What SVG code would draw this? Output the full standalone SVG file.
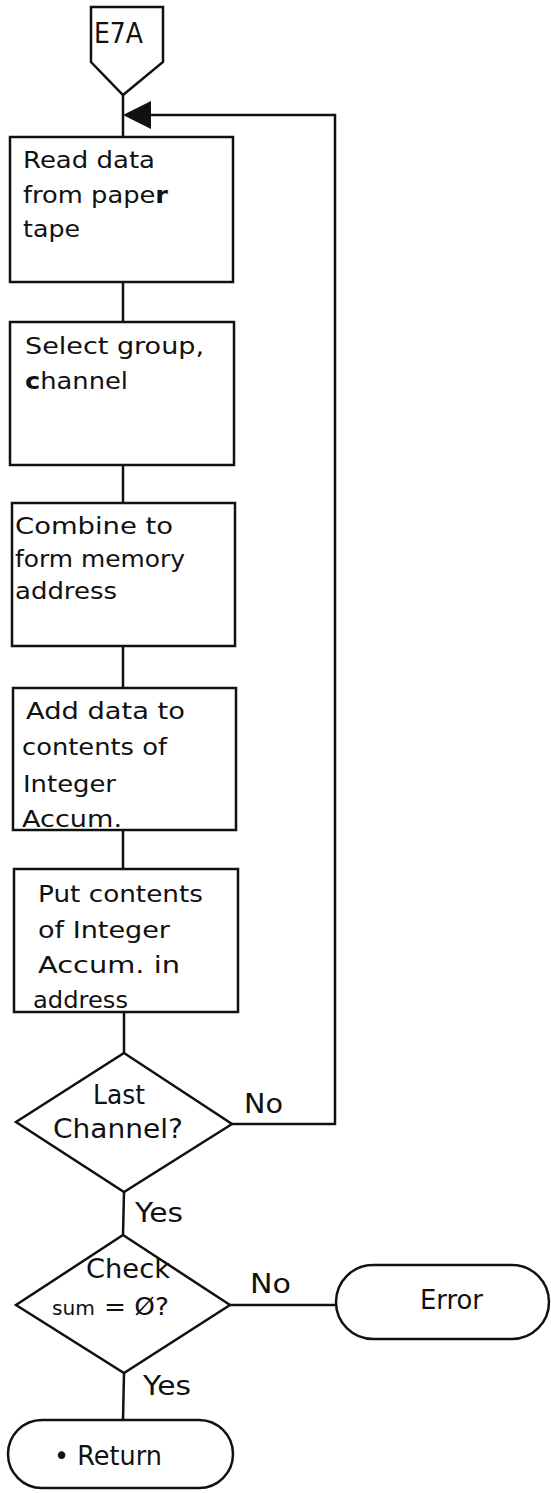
<svg xmlns="http://www.w3.org/2000/svg" width="551" height="1493" viewBox="0 0 551 1493">
<style>
.s{fill:none;stroke:#111;stroke-width:2.5;stroke-linejoin:miter}
.t{font-family:"DejaVu Sans","Liberation Sans",sans-serif;font-size:23px;fill:#111}
.l{font-size:26px}
.e{font-size:28px}
.sm{font-size:20px}
.eq{font-size:25px}
</style>
<rect width="551" height="1493" fill="#fff"/>
<g id="connectors">
<line class="s" x1="123" y1="95" x2="123" y2="137"/>
<path class="s" d="M232,1124 H335 V115 H150"/>
<path d="M123,115 L151,101 L151,129 Z" fill="#111"/>
<line class="s" x1="123" y1="282" x2="123" y2="322"/>
<line class="s" x1="123" y1="465" x2="123" y2="503"/>
<line class="s" x1="123" y1="646" x2="123" y2="688"/>
<line class="s" x1="123" y1="830" x2="123" y2="869"/>
<line class="s" x1="124" y1="1012" x2="124" y2="1053"/>
<line class="s" x1="124" y1="1192" x2="123" y2="1235"/>
<line class="s" x1="124" y1="1373" x2="123" y2="1420"/>
<line class="s" x1="230" y1="1305" x2="336" y2="1305"/>
<text class="t l" x="244" y="1113" textLength="39" lengthAdjust="spacingAndGlyphs">No</text>
<text class="t l" x="135" y="1222" textLength="48" lengthAdjust="spacingAndGlyphs">Yes</text>
<text class="t l" x="250" y="1293" textLength="41" lengthAdjust="spacingAndGlyphs">No</text>
<text class="t l" x="143" y="1395" textLength="48" lengthAdjust="spacingAndGlyphs">Yes</text>
</g>
<g id="e7a">
<path class="s" d="M91,7 H163 V62 L123,95 L91,62 Z"/>
<text class="t e" x="94" y="43" textLength="49" lengthAdjust="spacingAndGlyphs">E7A</text>
</g>
<g id="read">
<rect class="s" x="10" y="137" width="223" height="145"/>
<text class="t" x="23" y="168" textLength="132" lengthAdjust="spacingAndGlyphs">Read data</text>
<text class="t" x="23" y="203" textLength="145" lengthAdjust="spacingAndGlyphs">from pape<tspan font-weight="bold">r</tspan></text>
<text class="t" x="23" y="237" textLength="57" lengthAdjust="spacingAndGlyphs">tape</text>
</g>
<g id="select">
<rect class="s" x="10" y="322" width="224" height="143"/>
<text class="t" x="25" y="354" textLength="179" lengthAdjust="spacingAndGlyphs">Select group,</text>
<text class="t" x="25" y="389" textLength="103" lengthAdjust="spacingAndGlyphs"><tspan font-weight="bold">c</tspan>hannel</text>
</g>
<g id="combine">
<rect class="s" x="12" y="503" width="223" height="143"/>
<text class="t" x="15" y="534" textLength="158" lengthAdjust="spacingAndGlyphs">Combine to</text>
<text class="t" x="15" y="567" textLength="170" lengthAdjust="spacingAndGlyphs">form memory</text>
<text class="t" x="15" y="599" textLength="102" lengthAdjust="spacingAndGlyphs">address</text>
</g>
<g id="add">
<rect class="s" x="13" y="688" width="223" height="142"/>
<text class="t" x="26" y="719" textLength="159" lengthAdjust="spacingAndGlyphs">Add data to</text>
<text class="t" x="22" y="755" textLength="145" lengthAdjust="spacingAndGlyphs">contents of</text>
<text class="t" x="23" y="792" textLength="93" lengthAdjust="spacingAndGlyphs">Integer</text>
<text class="t" x="22" y="827" textLength="100" lengthAdjust="spacingAndGlyphs">Accum.</text>
</g>
<g id="put">
<rect class="s" x="14" y="869" width="224" height="143"/>
<text class="t" x="38" y="902" textLength="165" lengthAdjust="spacingAndGlyphs">Put contents</text>
<text class="t" x="38" y="938" textLength="132" lengthAdjust="spacingAndGlyphs">of Integer</text>
<text class="t" x="38" y="973" textLength="142" lengthAdjust="spacingAndGlyphs">Accum. in</text>
<text class="t" x="33" y="1008" textLength="95" lengthAdjust="spacingAndGlyphs">address</text>
</g>
<g id="last">
<path class="s" d="M124,1053 L232,1124 L124,1192 L16,1122 Z"/>
<text class="t l" x="93" y="1104" textLength="52" lengthAdjust="spacingAndGlyphs">Last</text>
<text class="t l" x="53" y="1138" textLength="130" lengthAdjust="spacingAndGlyphs">Channel?</text>
</g>
<g id="check">
<path class="s" d="M123,1235 L230,1305 L124,1373 L16,1305 Z"/>
<text class="t l" x="86" y="1278" textLength="84" lengthAdjust="spacingAndGlyphs">Check</text>
<text class="t sm" x="52" y="1315" textLength="43" lengthAdjust="spacingAndGlyphs">sum</text>
<text class="t eq" x="104" y="1315" textLength="65" lengthAdjust="spacingAndGlyphs">= Ø?</text>
</g>
<g id="error">
<rect class="s" x="336" y="1265" width="213" height="74" rx="37" ry="37"/>
<text class="t l" x="420" y="1309" textLength="63" lengthAdjust="spacingAndGlyphs">Error</text>
</g>
<g id="return">
<rect class="s" x="8" y="1420" width="225" height="68" rx="34" ry="34"/>
<text class="t l" x="54" y="1465" textLength="108" lengthAdjust="spacingAndGlyphs">• Return</text>
</g>
</svg>
